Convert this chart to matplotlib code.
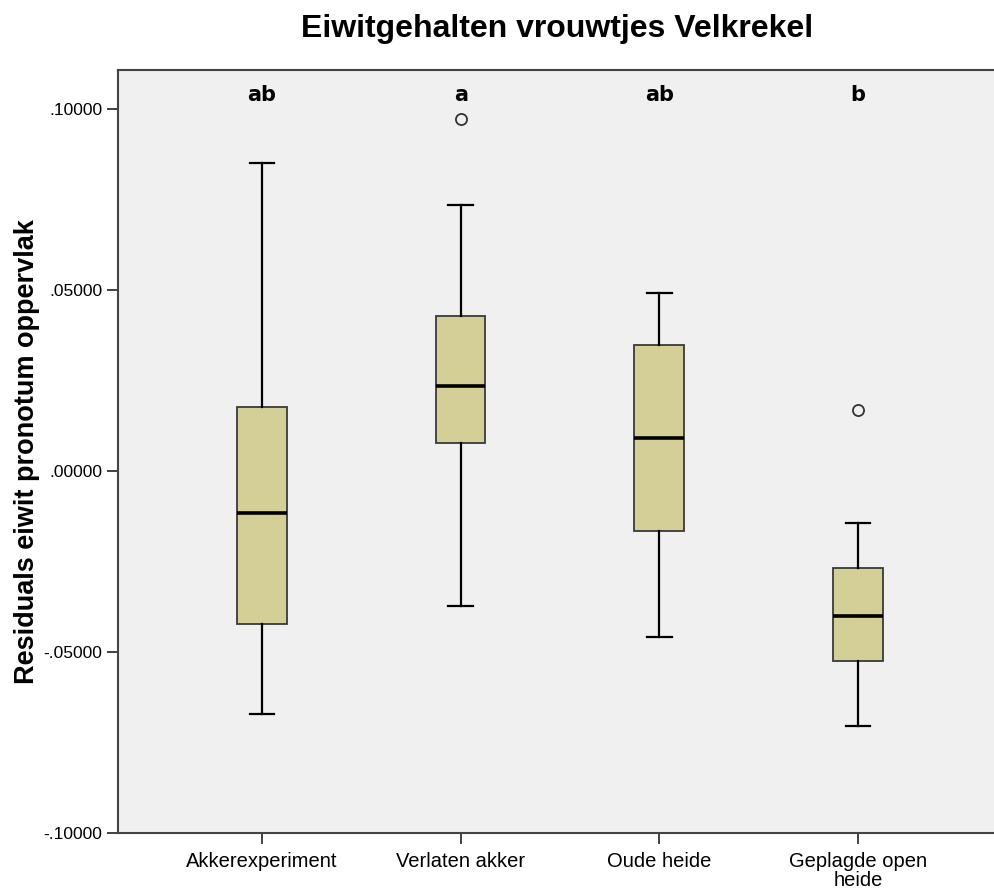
import matplotlib.pyplot as plt

plt.rcParams['font.family'] = ['Liberation Sans', 'DejaVu Sans']

categories = ["Akkerexperiment", "Verlaten akker", "Oude heide", "Geplagde open\nheide"]
whislo = [-0.0671, -0.0373, -0.0459, -0.0704]
q1 = [-0.0423, 0.0077, -0.0166, -0.0525]
medians = [-0.0116, 0.0235, 0.0091, -0.0401]
q3 = [0.0177, 0.0428, 0.0348, -0.0268]
whishi = [0.0851, 0.0735, 0.0492, -0.0144]
outliers = [[], [0.0972], [], [0.0169]]
letters = ["ab", "a", "ab", "b"]
yticks = [-0.10, -0.05, 0.0, 0.05, 0.10]

stats = []
for i in range(len(categories)):
    stats.append(dict(whislo=whislo[i], q1=q1[i], med=medians[i], q3=q3[i],
                      whishi=whishi[i], fliers=outliers[i]))

fig = plt.figure(figsize=(9.95, 8.93), dpi=100)
ax = fig.add_axes([118 / 995, 60 / 893, 1 - 118 / 995, 763 / 893])
ax.set_facecolor("#f0f0f0")

pos = list(range(1, len(categories) + 1))
ax.bxp(stats, positions=pos, widths=0.25, patch_artist=True,
       boxprops=dict(facecolor="#d3cf97", edgecolor="#3a3a3a", linewidth=1.3),
       medianprops=dict(color="black", linewidth=2.6),
       whiskerprops=dict(color="black", linewidth=1.6),
       capprops=dict(color="black", linewidth=1.6),
       capwidths=0.125,
       flierprops=dict(marker="o", markerfacecolor="none", markeredgecolor="#333333",
                       markersize=8, markeredgewidth=1.3))

for p, t in zip(pos, letters):
    ax.text(p, 0.104, t, ha="center", va="center", fontsize=15, fontweight="bold",
            family=["DejaVu Sans"])

ax.set_xlim(0.275, 4.69)
ax.set_ylim(-0.10, 0.1108)
ax.set_yticks(yticks)
ax.set_yticklabels([("%.5f" % v).replace("0.", ".") for v in yticks], fontsize=12.5)
ax.set_xticks(pos)
ax.set_xticklabels(categories, fontsize=14.5, linespacing=0.95)
ax.tick_params(axis="both", color="#333333", width=1.3, length=8)
ax.tick_params(axis="x", pad=6)

for s in ["left", "bottom", "top"]:
    ax.spines[s].set_color("#444444")
    ax.spines[s].set_linewidth(1.5)
ax.spines["right"].set_visible(False)

ax.set_ylabel("Residuals eiwit pronotum oppervlak", fontsize=19.5, fontweight="bold", labelpad=2)
fig.text(557 / 995, 1 - 29 / 893, "Eiwitgehalten vrouwtjes Velkrekel", ha="center", va="center",
         fontsize=23, fontweight="bold")

fig.savefig("out.png", dpi=100)
